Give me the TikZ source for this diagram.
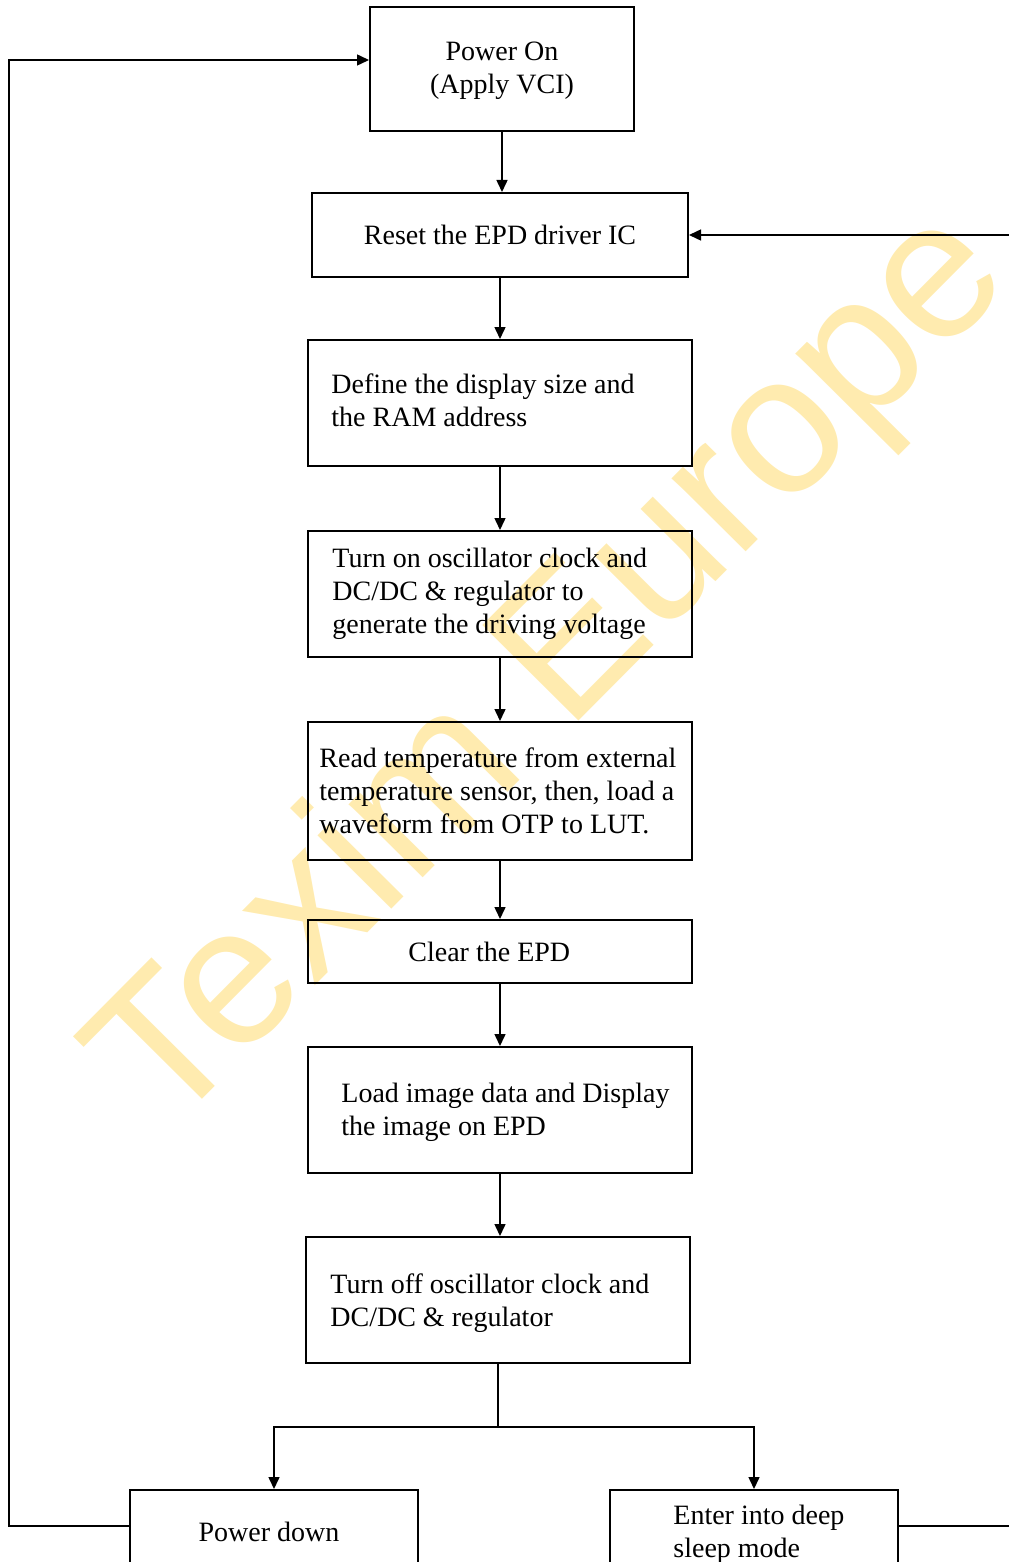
\documentclass[tikz,border=0pt]{standalone}
\usepackage{fontspec}
\setmainfont{Liberation Serif}
\newfontfamily\wmfont{Liberation Sans}
\usetikzlibrary{arrows.meta}
\definecolor{wmcol}{RGB}{255,235,175}
\begin{document}
\begin{tikzpicture}[x=0.5pt,y=-0.5pt,
  box/.style={draw, line width=1pt, inner sep=0pt},
  ctxt/.style={font=\fontsize{14}{16.4}\selectfont, align=center, inner sep=0pt},
  txt/.style={font=\fontsize{14}{16.4}\selectfont, align=left, inner sep=0pt, anchor=west},
  arr/.style={line width=0.75pt, -{Triangle[length=6pt,width=5.5pt]}},
  ln/.style={line width=0.75pt}]
\useasboundingbox (0,0) rectangle (1008,1562);
% watermark
\node[font=\wmfont\fontsize{98.5}{98.5}\selectfont, text=wmcol, rotate=45.2, anchor=base west, inner sep=0pt] (wm) at (166,1136) {Texim Europe};
% boxes
\node[box, minimum width=132pt, minimum height=62pt] (pon) at (502,69) {};
\node[ctxt] (pon-t) at ([yshift=-1pt]pon.center) {Power On\\(Apply VCI)};
\node[box, minimum width=188pt, minimum height=42pt] (reset) at (500,235) {};
\node[ctxt] (reset-t) at (reset.center) {Reset the EPD driver IC};
\node[box, minimum width=192pt, minimum height=63pt] (define) at (500,403) {};
\node[txt] (define-t) at ([xshift=12pt,yshift=1.5pt]define.west) {Define the display size and\\the RAM address};
\node[box, minimum width=192pt, minimum height=63pt] (turnon) at (500,594) {};
\node[txt] (turnon-t) at ([xshift=12.5pt]turnon.west) {Turn on oscillator clock and\\DC/DC \& regulator to\\generate the driving voltage};
\node[box, minimum width=192pt, minimum height=69pt] (read) at (500,791) {};
\node[txt] (read-t) at ([xshift=6pt]read.west) {Read temperature from external\\temperature sensor, then, load a\\waveform from OTP to LUT.};
\node[box, minimum width=192pt, minimum height=31.5pt] (clear) at (500,951.5) {};
\node[txt] (clear-t) at ([xshift=50.5pt]clear.west) {Clear the EPD};
\node[box, minimum width=192pt, minimum height=63pt] (load) at (500,1110) {};
\node[txt] (load-t) at ([xshift=17pt,yshift=-1pt]load.west) {Load image data and Display\\the image on EPD};
\node[box, minimum width=192pt, minimum height=63pt] (turnoff) at (498,1300) {};
\node[txt] (turnoff-t) at ([xshift=12.5pt,yshift=-1.5pt]turnoff.west) {Turn off oscillator clock and\\DC/DC \& regulator};
\node[box, minimum width=144pt, minimum height=42pt] (pdown) at (274,1532) {};
\node[ctxt] (pdown-t) at ([xshift=-2.5pt]pdown.center) {Power down};
\node[box, minimum width=144pt, minimum height=42pt] (enter) at (754,1532) {};
\node[txt] (enter-t) at ([xshift=32pt,yshift=-1pt]enter.west) {Enter into deep\\sleep mode};
% connectors
\draw[arr] (pon.south) -- (pon.south |- reset.north);
\draw[arr] (reset.south) -- (define.north);
\draw[arr] (define.south) -- (turnon.north);
\draw[arr] (turnon.south) -- (read.north);
\draw[arr] (read.south) -- (clear.north);
\draw[arr] (clear.south) -- (load.north);
\draw[arr] (load.south) -- (load.south |- turnoff.north);
\draw[ln] (turnoff.south) -- (turnoff.south |- 0,1427) coordinate (split);
\draw[arr] (split) -| (pdown.north);
\draw[arr] (split) -| (enter.north);
\draw[arr] ([yshift=3pt]pdown.west) -- ++(-120,0) |- ([yshift=4.5pt]pon.west);
\draw[arr] ([yshift=3pt]enter.east) -- ++(130,0) |- (reset.east);
\end{tikzpicture}
\end{document}
